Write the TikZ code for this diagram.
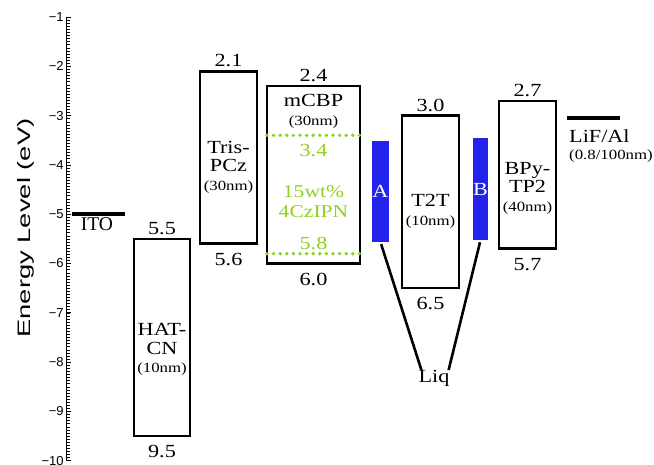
\documentclass[tikz,border=0pt]{standalone}
\usepackage{fontspec}
\setmainfont[FakeStretch=1.2]{Liberation Serif}
\newfontfamily\plainserif{Liberation Serif}
\newfontfamily\axisfont{Liberation Sans}
\usetikzlibrary{positioning}
\definecolor{dopgreen}{RGB}{140,210,30}
\definecolor{liqblue}{RGB}{35,35,235}
\newcommand{\thk}[1]{{\fontsize{14}{14}\selectfont(#1)}}

\begin{document}
\begin{tikzpicture}[x=1pt, y=49.3pt,
    layer/.style={draw, line width=2.6pt},
    electrode/.style={line width=3.6pt},
    num/.style={font=\fontsize{18.5}{19}\selectfont, inner sep=0pt},
    mat/.style={font=\fontsize{18.5}{18.5}\selectfont, align=center, inner sep=0pt},
    dopdots/.style={dopgreen, line width=3.8pt, line cap=round, dash pattern=on 0pt off 6.6pt},
    liqbar/.style={fill=liqblue, minimum width=15pt, inner sep=0pt, text=white,
      font=\fontsize{18.5}{19}\selectfont},
    liqline/.style={line width=2.6pt, shorten <=2pt}]

    \useasboundingbox (0,-10.067) rectangle (654,-0.655);

    % Draw axis with ticks
    \draw[line width=0.7pt] (66,-1) -- (66,-10);
    \foreach \k in {0,...,144}
      \draw[line width=0.5pt] (66,{-1-\k*0.0625}) -- (70,{-1-\k*0.0625});
    \foreach \e in {1,...,10}
      \draw[line width=0.7pt] (66,-\e) -- (71,-\e) node[anchor=east, inner sep=0pt,
        font=\axisfont\fontsize{13}{13}\selectfont] (tick\e) at (64,-\e) {−\e};
    \node[rotate=90, inner sep=0pt, font=\axisfont\fontsize{18}{18}\selectfont]
      (ylab) at (26,-5.28) {\scalebox{1.52}[1]{Energy Level (eV)}};

    % Draw electrodes
    \draw[electrode] (72,-5) -- (125,-5);
    \node[anchor=north, inner sep=0pt, font=\plainserif\fontsize{19.5}{20}\selectfont]
      (ito) at (97,-5.06) {ITO};
    \draw[electrode] (567,-3.05) -- (620,-3.05);
    \node[mat, anchor=west] (lif) at (569,-3.414) {LiF/Al};
    \node[anchor=west, inner sep=0pt] (lifnm) at (569,-3.82) {\thk{0.8/100nm}};

    % Draw layers with LUMO/HOMO values
    \foreach \name/\xa/\xb/\lumo/\homo in {hatcn/134/190/5.5/9.5, trispcz/200/257/2.1/5.6,
        mcbp/267/360/2.4/6.0, ttt/402/459/3.0/6.5, bpytp/499/556/2.7/5.7} {
      \draw[layer] (\xa,-\lumo) rectangle (\xb,-\homo);
      \node[num, above=4pt] (\name-lumo) at ({(\xa+\xb)/2},-\lumo) {\lumo};
      \node[num, below=9pt] (\name-homo) at ({(\xa+\xb)/2},-\homo) {\homo};
    }

    % Layer names
    \node[mat] (hatcn) at (162,-7.75) {HAT-\\CN\\\thk{10nm}};
    \node[mat] (trispcz) at (228.5,-4.04) {Tris-\\PCz\\\thk{30nm}};
    \node[mat] (mcbp) at (313.5,-2.91) {mCBP\\\thk{30nm}};
    \node[mat] (ttt) at (430.5,-4.94) {T2T\\\thk{10nm}};
    \node[mat] (bpytp) at (527.5,-4.47) {BPy-\\TP2\\\thk{40nm}};

    % Dopant levels
    \draw[dopdots] (267,-3.4) -- (360,-3.4);
    \draw[dopdots] (267,-5.8) -- (360,-5.8);
    \node[num, dopgreen, below=9pt] (dop-lumo) at (313.5,-3.4) {3.4};
    \node[num, dopgreen, above=4pt] (dop-homo) at (313.5,-5.8) {5.8};
    \node[mat, dopgreen, font=\fontsize{18}{20}\selectfont] (dop) at (313.5,-4.75) {15wt\%\\4CzIPN};

    % Liq interlayers
    \node[liqbar, minimum height=101pt] (A) at (380.5,-4.54) {A};
    \node[liqbar, minimum height=102pt] (B) at (480.5,-4.49) {B};
    \node[mat, anchor=north] (liq) at (434,-8.16) {Liq};
    \draw[liqline] (A.south) -- ([xshift=3pt]liq.north west);
    \draw[liqline] (B.south) -- ([xshift=-1pt]liq.north east);

\end{tikzpicture}
\end{document}
